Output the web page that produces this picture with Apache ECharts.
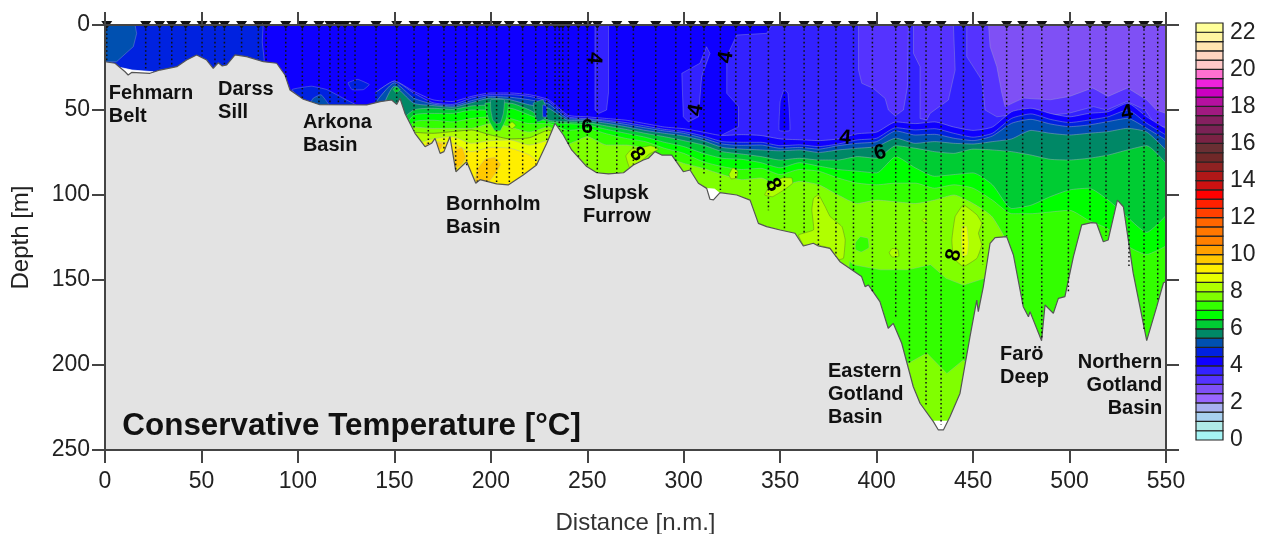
<!DOCTYPE html>
<html>
<head>
<meta charset="utf-8">
<style>html,body{margin:0;background:#fff}#chart{width:1263px;height:534px}</style>
<script src="https://cdn.jsdelivr.net/npm/echarts@6/dist/echarts.min.js"></script>
</head>
<body>
<div id="chart"></div>
<script>
// sea floor profile
const bottomDistance = [0,0.9,5.2,10.4,12,13.8,23.3,28.5,37.2,42.3,47.5,52.7,56.1,58.7,60.8,63.1,67.4,73.4,82.1,89,93.3,95.9,102.8,111.4,135.7,142.6,148.6,151.2,152.9,155.5,160.7,165.9,169.3,171.1,173.7,175.7,178.8,181.9,187.5,192.2,194.4,203,209,216.8,223.7,229,233.3,237.6,241.9,249.7,254.9,261,268.8,273.9,279.1,281.7,285.1,288.6,293.8,299.8,303.3,307.6,311.9,313.6,315.4,318.8,327.5,334.4,338.7,343,350,357.7,362,367.2,369.8,375.8,381,392.2,394,395.7,401.7,406,408.6,413,419,422.5,429.4,432,434.6,438,443.2,448.4,451.9,452.7,455.3,458.8,461.4,467.4,470.9,476,478.7,479.5,485.5,487.3,491.6,494.2,497.6,502,506.3,511.4,514,517.5,520,524.8,527.9,533,540,545.2,548.7,550];
const bottomDepth = [21.6,21.6,22.5,27.5,29.4,27.9,28.4,26.5,24.5,20.6,17.6,20.6,25.5,22.2,24.1,23.5,17.6,18.6,21.6,22.5,29.4,38.2,43.7,46.9,47,45.1,44.1,46.7,43.1,52,63.7,71.6,69.6,66.7,75.5,74.5,65.7,86.3,80.4,93.1,91,93.5,94.1,88.2,82.4,69.6,57.8,64.7,73.5,83.3,86.9,87.6,86.9,82.4,79.4,78.4,74.5,76.5,76.5,86.3,85.3,93.1,96.1,102.5,102.9,98.6,100,103,116.7,118.6,120.6,122.5,130,128.4,130,131.4,139.2,148,153.9,152.9,162.7,178.4,175.5,187.2,212.8,222.5,233.3,238.2,238.2,230.4,216.7,183.3,161.8,168.6,153.9,128.4,125.1,124.5,135.3,165.7,171.6,168.6,185.7,164.7,169.6,160.8,159.8,136.3,117.6,116.3,116.6,127.5,126.5,103,106.9,146,185.7,165.7,151.6,151];

// CTD stations
const stationDistance = [0.9,21.1,28.3,34.6,41.8,50.3,57,61.9,70.8,79.5,83.5,93.7,102.3,110.9,116.6,121,124.4,129.6,140.5,151.2,160.2,167.6,175.7,181.8,187.5,193,197.9,203,209.6,216.5,223.3,229,233.3,235.5,237.3,240.2,245.4,250,255.2,265.3,273.9,285.5,295.9,303.6,310.5,319,327,334.4,343.9,352.2,362.4,369.8,378.9,388,397.8,409.9,417,425.6,433.4,445,455,467.4,475.7,485.6,499.4,510.6,518.9,530.8,538.6,545.7];
const stationBottom = [21,27,25,24,20,18,24,23,17,20,21,31,43,46,46,46,46,46,45,45,62,70,74,85,83,92,92,93,93,88,82,69,57,60,64,70,78,83,87,87,82,74,80,85,88,97,90,100,109,120,122,130,136,145,157,173,199,224,235,197,141,124,165,185,158,115,124,142,179,163];

// isotherm depths [m] along the section
const isoDistance = [140,150,160,170,180,190,200,210,220,230,240,250,260,270,280,290,300,310,320,330,340,350,360,370,380,390,400,410,420,430,440,450,460,470,480,490,500,510,520,530,540,550];
const iso40 = [40,33,39,44,45,42,40,40,41,44,53,54,55,56,58,60,61,63,65,64.5,65,67,67.5,68,67,64,63,57,58,57,60,62,60,51,49,52,54,52,51,46,54,61];
const iso45 = [40,33,40,45.7,46.7,43,41,41,42,45,54,55,56,57.4,59.4,61.4,62.7,65.3,68.6,69,69,71,70.5,71.5,70,67.6,66.6,60.4,61.7,61,63.7,66,63.7,54.9,52.3,55.5,57.4,55.9,54,50,57.8,64.7];
const iso50 = [46,34,43,46.5,47.6,44.5,42,42.5,44,46.5,55,55.5,56.6,58.5,60.5,62.3,63.7,66.6,70,70.8,70.6,72.5,72,73,71,69.6,68.6,62.3,64.7,64.3,66.6,68,65.3,57.8,55.5,58.2,59.8,58.8,56.8,54.9,60.8,67.6];
const iso55 = [60,36,46,47.4,48.4,45.7,43,44,47,49,56,56.3,57.8,59.8,62,63.7,65.3,68,72,73,73.5,74,73.5,75,73.5,72.5,71.5,66.6,69.6,68.6,69.6,70,68.6,67,62,63.7,64.7,63.7,62.7,60.8,63,73.5];
const iso60 = [70,60,50,49,49.6,47.6,47,46,50,56,57,57.4,59.4,61.4,63.7,65.7,68,70.6,74.5,75.9,77.4,79.4,78.4,79.4,79.4,77.4,78.4,71,72.5,74.5,75.5,73,73.5,74.5,76.5,79,79.4,78.4,76.5,73.5,71,81.4];
const iso65 = [80,70,53,52,52,50,50,49,53,57,58,58.8,61.4,63.7,66,69,71.5,75.5,78.4,79,81,84,81,83,85,86,87,77.4,84,89,88,87,94,108,106,101,97,96,103,113,122,112];
const iso70 = [90,80,57,56,57,55,54,55,58,58,62,61,64,66.7,68.6,72.5,75.5,80.4,83.3,85,84.3,88,85,86,90,93,94,93,93,96,94,96,103,111,111,110,109,115,120,130,135,130];
const iso75 = [100,90,60,60.8,60.8,60.8,58,60,63,59.8,70,65.7,70.6,70.6,72.5,77.4,81.4,84.3,88,91,90,95,92,94,100,105,103,104,105,103,100,105,113,135,250,250,250,250,250,250,250,250];

// warm water below the Bornholm Basin halocline
const deepDistance = [150,160,170,180,190,200,210,220,230,240];
const iso80 = [60,63,63.7,62.7,61.8,64.7,67,66.3,61.8,75];
const iso85 = [70,70,67,65.7,69.6,68,67.6,70.6,68,80];
const iso90 = [80,80,68.6,69.6,74.5,72,72.5,76.5,85,90];

// closed contours, pairs of [distance, depth]
const westSurface45 = [[0,0],[82,0],[81.5,10],[82.5,20],[82,30],[0,30]];
const westSurface50 = [[0,0],[15.6,0],[16.4,5],[14.7,12.7],[6,21.6],[0,21.6]];
const cold35a = [[254,0],[261,0],[261,40],[260,50],[256,52],[254,50]];
const cold35b = [[311.8,12.8],[313.6,16.7],[309.3,30.4],[307.6,54],[302.4,57],[299.8,54],[299,28.4],[308.4,22.5]];
const cold35c = [[322.3,18.6],[327.5,5.9],[343,4.9],[345.6,0],[550,0],[550,100],[319.7,100],[319.7,64.7],[328.4,59.8],[328.4,48],[322.3,40.2]];
const warm40 = [[349.5,62],[350,45],[352,38],[354,40],[355,62]];
const cold30a = [[390.6,0],[416.5,0],[416,36.3],[413.9,50],[409.6,53.4],[406.1,50],[404.4,43.2],[398.3,37.3],[392.3,34.3],[390.6,26.5]];
const cold30b = [[419.1,0],[439.8,0],[440.7,26.5],[437.2,44.1],[427.7,52],[426,55.9],[422.5,55],[422.5,24.5],[419.1,16.7]];
const cold30c = [[446.7,0],[446.7,18.6],[454.5,32.4],[456.2,50],[462.3,54],[476,52],[490,53],[499.4,52],[512.4,48],[519.3,50],[529.7,45],[539.2,50],[545.2,60],[550,60],[550,0]];
const cold25 = [[458,0],[458.8,12.7],[462.3,24.5],[464.9,40],[466.6,48],[476,43],[490,44],[500,42],[512,37],[520,42],[530,37],[540,44],[545,50],[550,52],[550,0]];
const arkona45a = [[97,38],[107,36],[115,38],[125,44],[130,47],[105,47]];
const arkona45b = [[126,34],[131,32],[137,35],[134,38],[128,38]];
const arkona50 = [[108,43],[112,41],[116,47],[106,47]];
const arkona60 = [[149.5,38],[151,36],[153,38],[151,40]];
const tongue60 = [[197,46],[209,46],[208,55],[205,62],[202,62],[199,56]];
const tongue55 = [[200,44],[207,44],[206.5,52],[205,57.5],[203,58],[201,56],[200,50]];
const ridge55 = [[222,46],[227,44],[229,50],[228,55],[224,57]];
const ridge50 = [[227,47],[229,48],[229,54],[227,54]];
const bornholm95a = [[192,92],[193,85],[197,79],[202,78],[205,82],[202,88],[199,92]];
const bornholm95b = [[181.5,84],[181,74],[185,72],[187,78],[185,82]];
const bornholm95c = [[166,72],[167,69],[169,70],[168,72]];
const bornholm95d = [[172,73],[172,69],[175,70],[174,73]];
const bornholm80 = [[209,59],[211,57],[213,59],[211,61]];
const slupsk80 = [[270,77],[273,73],[278,72],[283,71],[287,73],[282,76],[276,82],[272,84]];
const gotland80a = [[342,100],[345,94],[351,90],[356,90],[356.5,93],[352,97],[346,101]];
const gotland80b = [[323.5,88],[325.5,84],[328,86],[327.5,90],[324.5,90.5]];
const gotland80c = [[367.3,101.9],[369.9,99.9],[373.3,106.8],[375.9,112.7],[382,118.6],[383.7,126.4],[382.8,137.2],[379.4,138.2],[375.9,131.3],[369,129.4],[362.1,129.4],[359.5,123.5],[367.3,120.5],[366.4,108.8]];
const gotland80d = [[445,105.8],[452,111.7],[454.5,116.6],[452.8,122.5],[454.5,129.4],[452,137.2],[445,142.1],[439.9,137.2],[439,126.4],[440.7,112.7]];
const gotland80e = [[406.5,134],[408,131.5],[411,132],[411.5,136],[408,136.5]];
const gotland80f = [[423.6,115],[424.8,113.6],[426,115],[424.8,116.3]];
const gotland85 = [[444.2,118.6],[446.7,118.6],[447.6,128],[447,135],[444.5,136],[444,128]];
const gotland70a = [[386,139],[388,141],[402,144],[416,144],[428,141],[436,149],[445,153],[456,149],[470,180],[447,200],[445,197],[436.4,205],[426,193],[416.5,199],[400,190],[385,148]];
const gotland70b = [[389,128],[391.5,124.5],[395.5,125.5],[396,131],[392,133.5],[389,132]];
const noData = [
  [[8,25],[12,29.6],[14,28],[23,28.6],[25,27.5],[14,26.5]],
  [[311,96],[313.6,103],[315.4,103],[318.8,99],[316,96.5]],
  [[429.5,233],[437.5,233],[434.6,239],[432,239]]
];

// colour bar, one colour per 0.5 degree from 0 upward
const levelValues = [0,0.5,1,1.5,2,2.5,3,3.5,4,4.5,5,5.5,6,6.5,7,7.5,8,8.5,9,9.5,10,10.5,11,11.5,12,12.5,13,13.5,14,14.5,15,15.5,16,16.5,17,17.5,18,18.5,19,19.5,20,20.5,21,21.5,22];
const levelColors = ['#a5f5f5','#b0ebe8','#a8d0f0','#a8b0f0','#9966ff','#7f50f5','#5533ff','#3322ff','#0f00ff','#0022e0','#0050b0','#008866','#00cc33','#00ff00','#33ff00','#80ff00','#b0ff00','#e8ff00','#ffee00','#ffc800','#ffa000','#ff8000','#ff7700','#ff6600','#ff4000','#ff2000','#ff0000','#cc1111','#b01818','#902222','#702828','#6a2f33','#7a2244','#7a2255','#852060','#a01a80','#b510a0','#cc00c0','#ee22dd','#ff70d0','#ffc8c8','#ffd5c0','#ffe4b0','#fff5a0','#ffff99'];
const colorOf = t => levelColors[levelValues.indexOf(t)];

// basin names and contour numbers
const basinNames = ['Fehmarn\nBelt','Darss\nSill','Arkona\nBasin','Bornholm\nBasin','Slupsk\nFurrow','Eastern\nGotland\nBasin','Farö\nDeep','Northern\nGotland\nBasin'];
const basinDistance = [2,58.6,102.6,176.8,247.8,374.8,464,548];
const basinDepth = [33.5,31,50.6,98.8,92.4,197,187,191.8];
const contourText = ['4','4','4','4','4','6','6','8','8','8'];
const contourDistance = [253.5,322,306.4,383.6,529.8,249.9,401.8,275.8,346.3,440];
const contourDepth = [19.4,19,50,66.5,51.8,60,75.3,76,94,135.3];
const contourAngle = [-95,80,80,-5,10,0,15,-50,-60,75];

const font = 'Liberation Sans';
const axisColor = '#444';
const series = [];

function zip(a, b) {
  return a.map((v, i) => [v, b[i]]);
}

// area from a depth curve down to the bottom of the plot, later ones paint over earlier ones
function addLayer(xs, ys, color, line) {
  series.push({
    type: 'line', xAxisIndex: 0, yAxisIndex: 0, data: zip(xs, ys), showSymbol: false, silent: true, smooth: 0.2,
    lineStyle: { color: line || 'rgba(170,175,200,0.55)', width: 0.8 },
    areaStyle: { color: color, opacity: 1, origin: 'end' }
  });
}

function addPatch(points, color, line, smooth) {
  series.push({
    type: 'custom', xAxisIndex: 0, yAxisIndex: 0, data: [points[0]], silent: true, clip: true,
    renderItem: (params, api) => ({
      type: 'polygon',
      shape: { points: points.map(p => api.coord(p)), smooth: smooth === undefined ? 0.1 : smooth },
      style: { fill: color, stroke: line || 'rgba(170,175,200,0.5)', lineWidth: 0.7 }
    })
  });
}

addLayer([0, 550], [0, 0], colorOf(4));
addPatch(westSurface45, colorOf(4.5), null, 0);
addPatch(westSurface50, colorOf(5), null, 0);
[cold35a, cold35b, cold35c].forEach(p => addPatch(p, colorOf(3.5), null, 0));
addPatch(warm40, colorOf(4));
[cold30a, cold30b, cold30c].forEach(p => addPatch(p, colorOf(3), null, 0));
addPatch(cold25, colorOf(2.5), null, 0);
[arkona45a, arkona45b].forEach(p => addPatch(p, colorOf(4.5)));
addPatch(arkona50, colorOf(5));

addLayer(isoDistance, iso40, colorOf(4));
addLayer(isoDistance, iso45, colorOf(4.5));
addLayer(isoDistance, iso50, colorOf(5));
addLayer(isoDistance, iso55, colorOf(5.5));
addPatch(arkona60, colorOf(6));
addLayer(isoDistance, iso60, colorOf(6));
addLayer(isoDistance, iso65, colorOf(6.5));
addLayer(isoDistance, iso70, colorOf(7));
addLayer(isoDistance, iso75, colorOf(7.5));
addPatch(tongue60, colorOf(6));
addPatch(tongue55, colorOf(5.5));
addPatch(ridge55, colorOf(5.5));
addPatch(ridge50, colorOf(4.5));

addLayer(deepDistance, iso80, colorOf(8), 'rgba(90,110,40,0.8)');
addLayer(deepDistance, iso85, colorOf(8.5));
addLayer(deepDistance, iso90, colorOf(9));
[bornholm95a, bornholm95b, bornholm95c, bornholm95d].forEach(p => addPatch(p, colorOf(9.5)));
addPatch(gotland70a, colorOf(7), null, 0);
addPatch(gotland70b, colorOf(7));
[bornholm80, slupsk80, gotland80a, gotland80b, gotland80c, gotland80d, gotland80e, gotland80f].forEach(p => addPatch(p, colorOf(8), 'rgba(90,110,40,0.6)'));
addPatch(gotland85, colorOf(8.5));
noData.forEach(p => addPatch(p, '#fff', '#fff', 0));

addLayer(bottomDistance, bottomDepth, '#e3e3e3', '#555');
series[series.length - 1].smooth = false;
series[series.length - 1].lineStyle.width = 1.2;

// dotted station casts
series.push({
  type: 'custom', xAxisIndex: 0, yAxisIndex: 0, data: zip(stationDistance, stationBottom), silent: true,
  renderItem: (params, api) => {
    const a = api.coord([api.value(0), 0]);
    const b = api.coord([api.value(0), api.value(1)]);
    return { type: 'line', shape: { x1: a[0], y1: a[1], x2: b[0], y2: b[1] }, style: { stroke: '#111', lineWidth: 1.5, lineDash: [1.6, 2.6] } };
  }
});
series.push({
  type: 'scatter', xAxisIndex: 0, yAxisIndex: 0, data: stationDistance.map(d => [d, 0]), clip: false, silent: true,
  symbol: 'triangle', symbolRotate: 180, symbolSize: [11, 8], itemStyle: { color: '#111', opacity: 1 }
});

// contour numbers
series.push({
  type: 'scatter', xAxisIndex: 0, yAxisIndex: 0, symbolSize: 0, silent: true, itemStyle: { opacity: 1 },
  data: contourText.map((t, i) => ({
    value: [contourDistance[i], contourDepth[i]],
    label: { show: true, formatter: t, position: [0, 0], align: 'center', verticalAlign: 'middle', rotate: contourAngle[i], fontFamily: font, fontSize: 21, fontWeight: 'bold', color: '#000' }
  }))
});
// basin names
series.push({
  type: 'scatter', xAxisIndex: 0, yAxisIndex: 0, symbolSize: 0, silent: true, itemStyle: { opacity: 1 },
  data: basinNames.map((t, i) => ({
    value: [basinDistance[i], basinDepth[i]],
    label: { show: true, formatter: t, position: [0, 0], align: t.startsWith('Northern') ? 'right' : 'left', verticalAlign: 'top', fontFamily: font, fontSize: 20, fontWeight: 'bold', lineHeight: 23, color: '#111' }
  }))
});
series.push({
  type: 'scatter', xAxisIndex: 0, yAxisIndex: 0, symbolSize: 0, silent: true, itemStyle: { opacity: 1 },
  data: [{
    value: [9, 236],
    label: { show: true, formatter: 'Conservative Temperature [°C]', position: [0, 0], align: 'left', verticalAlign: 'middle', fontFamily: font, fontSize: 31.4, fontWeight: 'bold', color: '#111' }
  }]
});

// colour bar cells
series.push({
  type: 'custom', xAxisIndex: 2, yAxisIndex: 2, data: levelValues.map(v => [0, v]), silent: true,
  renderItem: (params, api) => {
    const a = api.coord([0, api.value(1) + 0.5]);
    const b = api.coord([1, api.value(1)]);
    return { type: 'rect', shape: { x: a[0], y: a[1], width: b[0] - a[0], height: b[1] - a[1] }, style: { fill: levelColors[params.dataIndex], stroke: '#222', lineWidth: 1.2 } };
  }
});

// painter's order: every series sits on top of the previous one
series.forEach((s, i) => { s.z = 2 + i; });

const axisTick = { show: true, length: 13, lineStyle: { color: axisColor, width: 2 } };
const axisLine = { show: true, onZero: false, lineStyle: { color: axisColor, width: 2 } };
const tickLabel = { fontFamily: font, fontSize: 23, color: '#222' };

const chart = echarts.init(document.getElementById('chart'));
chart.setOption({
  animation: false,
  backgroundColor: '#fff',
  grid: [
    { left: 105, top: 25, width: 1061, height: 425, outerBoundsMode: 'none' },
    { left: 1196, top: 23, width: 27, height: 417, outerBoundsMode: 'none' }
  ],
  xAxis: [
    { gridIndex: 0, type: 'value', min: 0, max: 550, interval: 50, position: 'bottom', z: 200, axisLine, axisTick, splitLine: { show: false },
      axisLabel: { ...tickLabel, margin: 20 },
      name: 'Distance [n.m.]', nameLocation: 'middle', nameGap: 61, nameTextStyle: { fontFamily: font, fontSize: 24, color: '#333' } },
    { gridIndex: 0, type: 'value', min: 0, max: 550, interval: 50, position: 'top', z: 200, axisLine, axisTick, splitLine: { show: false }, axisLabel: { show: false } },
    { gridIndex: 1, type: 'value', min: 0, max: 1, show: false }
  ],
  yAxis: [
    { gridIndex: 0, type: 'value', inverse: true, min: 0, max: 250, interval: 50, position: 'left', z: 200, axisLine, axisTick, splitLine: { show: false },
      axisLabel: { ...tickLabel, margin: 15 },
      name: 'Depth [m]', nameLocation: 'middle', nameGap: 72, nameTextStyle: { fontFamily: font, fontSize: 24, color: '#222' } },
    { gridIndex: 0, type: 'value', inverse: true, min: 0, max: 250, interval: 50, position: 'right', z: 200, axisLine, axisTick, splitLine: { show: false }, axisLabel: { show: false } },
    { gridIndex: 1, type: 'value', min: 0, max: 22.5, interval: 2, position: 'right', axisLine: { show: false }, axisTick: { show: false }, splitLine: { show: false },
      axisLabel: { ...tickLabel, margin: 7, formatter: v => (v % 2 === 0 ? v : '') } }
  ],
  series
});
</script>
</body>
</html>
